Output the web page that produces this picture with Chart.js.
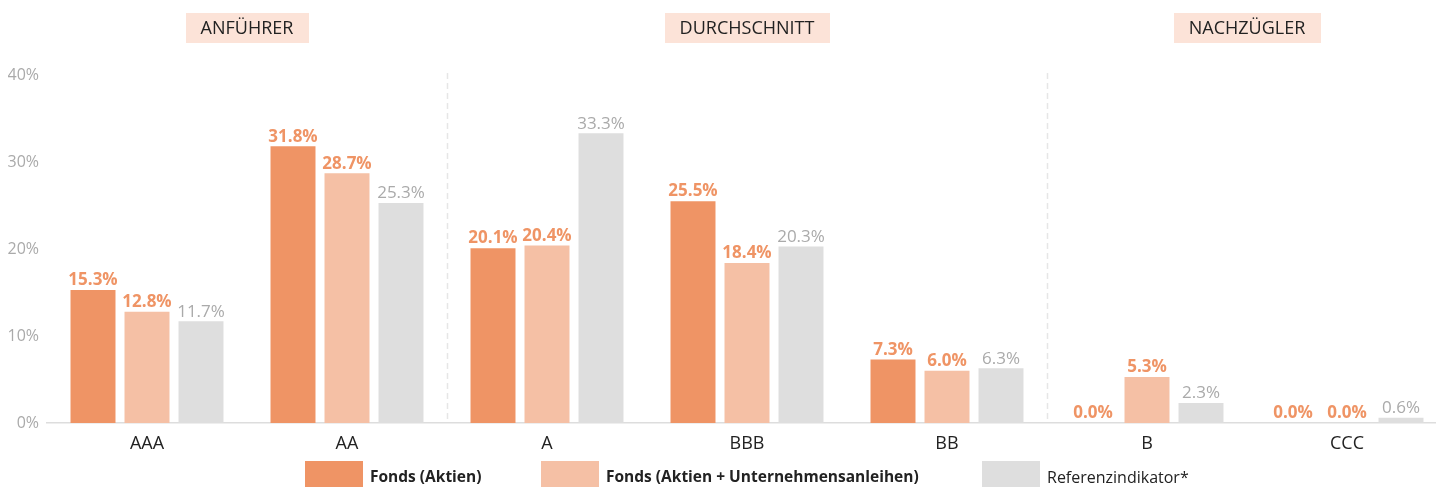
<!DOCTYPE html>
<html>
<head>
<meta charset="utf-8">
<script src="https://cdn.jsdelivr.net/npm/chart.js@4/dist/chart.umd.min.js"></script>
<style>
    html, body { margin: 0; padding: 0; background: #fff; overflow: hidden; }
    #wrap { width: 1494px; height: 487px; }
</style>
</head>
<body>
<div id="wrap"><canvas id="chart" width="1494" height="487"></canvas></div>
<script>
const categories = ['AAA', 'AA', 'A', 'BBB', 'BB', 'B', 'CCC'];
const seriesNames = ['Fonds (Aktien)', 'Fonds (Aktien + Unternehmensanleihen)', 'Referenzindikator*'];
const fondsAktien = [15.3, 31.8, 20.1, 25.5, 7.3, 0.0, 0.0];
const fondsMix = [12.8, 28.7, 20.4, 18.4, 6.0, 5.3, 0.0];
const referenz = [11.7, 25.3, 33.3, 20.3, 6.3, 2.3, 0.6];
const yTicks = [0, 10, 20, 30, 40];
// group headers: label + category range they sit over
const groups = [
    { label: 'ANFÜHRER', from: 0, to: 1 },
    { label: 'DURCHSCHNITT', from: 3, to: 3 },
    { label: 'NACHZÜGLER', from: 5, to: 6 }
];
const dividers = [1.5, 4.5];

const colors = ['#EF9465', '#F5C0A5', '#DEDEDE'];
const labelColors = ['#EF9465', '#EF9465', '#AAAAAA'];
const FONT = '"Open Sans", "Noto Sans", sans-serif';

const decor = {
    id: 'decor',
    beforeDatasetsDraw(chart) {
        const { ctx, chartArea, scales: { x } } = chart;
        ctx.save();
        ctx.strokeStyle = '#E6E6E6';
        ctx.lineWidth = 1.5;
        ctx.setLineDash([6, 4]);
        dividers.forEach(d => {
            const px = Math.round((x.getPixelForValue(Math.floor(d)) + x.getPixelForValue(Math.ceil(d))) / 2) + 0.5;
            ctx.beginPath();
            ctx.moveTo(px, chartArea.top - 2);
            ctx.lineTo(px, chartArea.bottom);
            ctx.stroke();
        });
        ctx.restore();
    },
    afterDatasetsDraw(chart) {
        const { ctx, scales: { x } } = chart;
        ctx.save();
        // value labels
        ctx.textAlign = 'center';
        ctx.textBaseline = 'bottom';
        chart.data.datasets.forEach((ds, i) => {
            const meta = chart.getDatasetMeta(i);
            ctx.font = (i < 2 ? 'bold ' : '') + '17px ' + FONT;
            ctx.fillStyle = labelColors[i];
            meta.data.forEach((bar, j) => {
                ctx.fillText(ds.data[j].toFixed(1) + '%', bar.x, bar.y - 1);
            });
        });
        // group headers
        ctx.font = '18px ' + FONT;
        ctx.textBaseline = 'middle';
        groups.forEach(g => {
            const cx = (x.getPixelForValue(g.from) + x.getPixelForValue(g.to)) / 2;
            const w = ctx.measureText(g.label).width + 30;
            ctx.fillStyle = '#FCE3D8';
            ctx.fillRect(Math.round(cx - w / 2), 13, Math.round(w), 30);
            ctx.fillStyle = '#222222';
            ctx.fillText(g.label, cx, 29);
        });
        // legend
        const items = [
            { x: 305, bold: true },
            { x: 541, bold: true },
            { x: 982, bold: false }
        ];
        ctx.textAlign = 'left';
        items.forEach((it, i) => {
            ctx.fillStyle = colors[i];
            ctx.fillRect(it.x, 461, 58, 27);
            ctx.font = (it.bold ? 'bold 15.5px ' : '16px ') + FONT;
            ctx.fillStyle = '#222222';
            ctx.fillText(seriesNames[i], it.x + 65, 478);
        });
        ctx.restore();
    }
};

new Chart(document.getElementById('chart'), {
    type: 'bar',
    data: {
        labels: categories,
        datasets: [fondsAktien, fondsMix, referenz].map((d, i) => ({
            label: seriesNames[i],
            data: d,
            backgroundColor: colors[i],
            borderWidth: 0,
            categoryPercentage: 0.81,
            barPercentage: 0.833
        }))
    },
    options: {
        responsive: false,
        animation: false,
        devicePixelRatio: 1,
        layout: { padding: { left: 8, right: 47, top: 75, bottom: 0 } },
        plugins: { legend: { display: false }, tooltip: { enabled: false } },
        scales: {
            x: {
                grid: { display: false, drawTicks: false },
                border: { color: '#DDDDDD', width: 1.5 },
                ticks: { color: '#222222', font: { family: FONT, size: 18 }, padding: 10 },
                afterFit: axis => { axis.height = 64; }
            },
            y: {
                min: 0,
                max: 40,
                afterBuildTicks: axis => { axis.ticks = yTicks.map(v => ({ value: v })); },
                grid: { display: false, drawTicks: false },
                border: { display: false },
                ticks: {
                    color: '#AAAAAA',
                    font: { family: FONT, size: 16 },
                    padding: 8,
                    callback: v => v + '%'
                },
                afterFit: axis => { axis.width = 39; }
            }
        }
    },
    plugins: [decor]
});
</script>
</body>
</html>
